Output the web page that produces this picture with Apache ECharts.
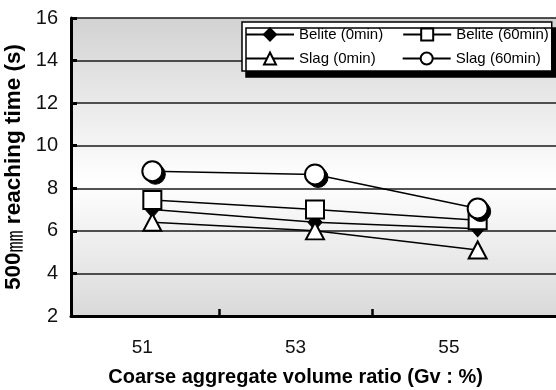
<!DOCTYPE html>
<html>
<head>
<meta charset="utf-8">
<script src="https://cdn.jsdelivr.net/npm/echarts@6/dist/echarts.min.js"></script>
<style>
  html, body { margin: 0; padding: 0; background: #fff; }
  #chart { width: 556px; height: 390px; }
</style>
</head>
<body>
<div id="chart"></div>
<script>
// Coarse aggregate volume ratio (Gv, %)
const volumeRatio = ['51', '53', '55'];

// 500 mm flow reaching time (s)
const beliteInitial = [7.0, 6.4, 6.1];
const beliteAfter60 = [7.45, 7.0, 6.5];
const slagInitial   = [6.4, 6.0, 5.1];
const slagAfter60   = [8.8, 8.65, 7.05];

const seriesNames = ['Belite (0min)', 'Belite (60min)', 'Slag (0min)', 'Slag (60min)'];

// y axis range and step
const timeMin = 2;
const timeMax = 16;
const timeStep = 2;

const FONT = '"Liberation Sans", Arial, sans-serif';

const chart = echarts.init(document.getElementById('chart'), null, { renderer: 'canvas' });

const lineCommon = {
  type: 'line',
  xAxisIndex: 0,
  yAxisIndex: 0,
  showAllSymbol: true,
  lineStyle: { color: '#000', width: 1.5 },
  emphasis: { disabled: true },
  animation: false
};

const legendCommon = {
  left: 242,
  orient: 'horizontal',
  itemWidth: 48,
  itemHeight: 15,
  selectedMode: false,
  itemStyle: { shadowBlur: 0, shadowOffsetX: 0, shadowOffsetY: 0, shadowColor: 'rgba(0,0,0,0)' },
  textStyle: { fontFamily: FONT, fontSize: 15, color: '#000' }
};

chart.setOption({
  animation: false,
  backgroundColor: '#fff',
  grid: [
    {
      // plotting area
      left: 71, top: 18, width: 488, height: 298,
      show: true,
      borderWidth: 0,
      backgroundColor: new echarts.graphic.LinearGradient(0, 0, 0, 1, [
        { offset: 0, color: '#d2d2d2' },
        { offset: 0.55, color: '#ffffff' },
        { offset: 1, color: '#d9d9d9' }
      ]),
      outerBoundsMode: 'none'
    },
    // category labels and axis title
    { left: 65.6, top: 18, width: 460, height: 298, show: false, outerBoundsMode: 'none' },
    // bottom tick marks
    { left: 219, top: 18, width: 153.3, height: 298, show: false, outerBoundsMode: 'none' }
  ],
  legend: [
    // first row, its box also frames the second row
    Object.assign({}, legendCommon, {
      data: [seriesNames[0], seriesNames[1]],
      top: 22,
      padding: [5, 3, 29, 3],
      itemGap: 19,
      backgroundColor: '#fff',
      borderColor: '#000',
      borderWidth: 1.5,
      borderRadius: 0,
      shadowColor: '#000',
      shadowBlur: 0,
      shadowOffsetX: 4,
      shadowOffsetY: 6
    }),
    Object.assign({}, legendCommon, {
      data: [seriesNames[2], seriesNames[3]],
      top: 46,
      padding: [5, 3, 5, 3],
      itemGap: 26
    })
  ],
  xAxis: [
    {
      type: 'category',
      gridIndex: 0,
      data: volumeRatio,
      boundaryGap: true,
      axisLine: { show: true, lineStyle: { color: '#000', width: 3 } },
      axisTick: { show: false },
      axisLabel: { show: false },
      splitLine: { show: false }
    },
    {
      type: 'category',
      gridIndex: 1,
      data: volumeRatio,
      boundaryGap: true,
      axisLine: { show: false },
      axisTick: { show: false },
      axisLabel: { show: true, margin: 22, fontFamily: FONT, fontSize: 19, color: '#111' },
      splitLine: { show: false },
      name: 'Coarse aggregate volume ratio (Gv : %)',
      nameLocation: 'middle',
      nameGap: 51,
      nameTextStyle: { fontFamily: FONT, fontSize: 20, fontWeight: 'bold', color: '#000' }
    },
    {
      type: 'category',
      gridIndex: 2,
      data: ['', ''],
      boundaryGap: false,
      axisLine: { show: false },
      axisTick: { show: true, inside: true, length: 7, lineStyle: { color: '#000', width: 2.5 } },
      axisLabel: { show: false },
      splitLine: { show: false }
    }
  ],
  yAxis: [
    {
      type: 'value',
      gridIndex: 0,
      min: timeMin,
      max: timeMax,
      interval: timeStep,
      axisLine: { show: true, lineStyle: { color: '#000', width: 3 } },
      axisTick: { show: true, inside: true, length: 6, lineStyle: { color: '#000', width: 3 } },
      axisLabel: { margin: 13, fontFamily: FONT, fontSize: 20, color: '#111' },
      splitLine: { show: true, lineStyle: { color: '#1a1a1a', width: 1.5 } },
      name: '{a|500}{b|㎜}{a| reaching time (s)}',
      nameLocation: 'middle',
      nameGap: 41,
      nameRotate: 90,
      nameTextStyle: {
        rich: {
          a: { fontFamily: FONT, fontSize: 22.5, fontWeight: 'bold', color: '#000' },
          b: { fontFamily: '"Noto Sans CJK KR", sans-serif', fontSize: 22, fontWeight: 'normal', color: '#000' }
        }
      }
    },
    { type: 'value', gridIndex: 1, show: false, min: timeMin, max: timeMax },
    { type: 'value', gridIndex: 2, show: false, min: timeMin, max: timeMax }
  ],
  series: [
    Object.assign({}, lineCommon, {
      name: seriesNames[0],
      data: beliteInitial,
      symbol: 'diamond',
      symbolSize: [14, 16],
      itemStyle: { color: '#000', borderColor: '#000', borderWidth: 1 },
      z: 2
    }),
    Object.assign({}, lineCommon, {
      name: seriesNames[2],
      data: slagInitial,
      symbol: 'triangle',
      symbolSize: [18, 17],
      itemStyle: { color: '#fff', borderColor: '#000', borderWidth: 2 },
      z: 3
    }),
    Object.assign({}, lineCommon, {
      name: seriesNames[1],
      data: beliteAfter60,
      symbol: 'rect',
      symbolSize: 18,
      itemStyle: { color: '#fff', borderColor: '#000', borderWidth: 2 },
      z: 4
    }),
    // drop shadow under the Slag (60min) circles
    Object.assign({}, lineCommon, {
      name: 'slag60-shadow',
      data: slagAfter60,
      symbol: 'circle',
      symbolSize: 20,
      symbolOffset: [3, 3],
      lineStyle: { width: 0, opacity: 0 },
      itemStyle: { color: '#000', borderColor: '#000', borderWidth: 1 },
      z: 5
    }),
    Object.assign({}, lineCommon, {
      name: seriesNames[3],
      data: slagAfter60,
      symbol: 'circle',
      symbolSize: 20,
      itemStyle: { color: '#fff', borderColor: '#000', borderWidth: 2 },
      z: 6
    })
  ]
});
</script>
</body>
</html>
